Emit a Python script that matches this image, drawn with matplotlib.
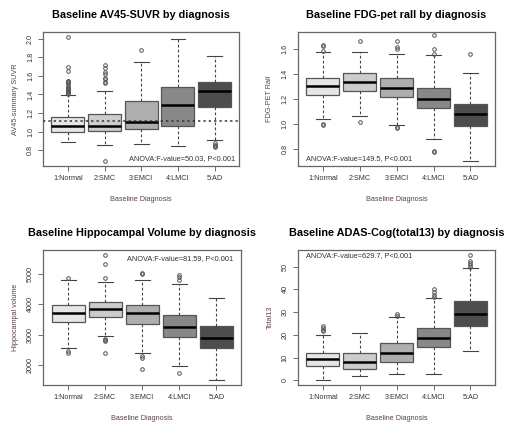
import matplotlib
matplotlib.use("Agg")
import matplotlib.pyplot as plt

plt.rcParams["font.family"] = ["Liberation Sans", "DejaVu Sans"]

groups = ["1:Normal", "2:SMC", "3:EMCI", "4:LMCI", "5:AD"]
box_colors = ["#E6E6E6", "#CCCCCC", "#AEAEAE", "#888888", "#4D4D4D"]

# --- AV45 SUVR: (whislo, q1, med, q3, whishi) per group + outliers
av45_stats = [(0.89, 1.00, 1.06, 1.16, 1.39), (0.855, 1.005, 1.063, 1.185, 1.44),
              (0.872, 1.023, 1.10, 1.326, 1.748), (0.843, 1.06, 1.286, 1.477, 1.995),
              (0.908, 1.27, 1.434, 1.535, 1.816)]
av45_out = [[2.02, 1.70, 1.65, 1.55, 1.54, 1.53, 1.52, 1.50, 1.48, 1.47, 1.46, 1.45, 1.44, 1.43, 1.42, 1.41],
            [1.72, 1.69, 1.64, 1.62, 1.58, 1.57, 1.53, 1.52, 0.68],
            [1.874], [], [0.88, 0.86, 0.85, 0.83]]
av45_cut = 1.11

# --- FDG-PET
fdg_stats = [(1.034, 1.226, 1.304, 1.366, 1.573), (1.061, 1.26, 1.336, 1.403, 1.578),
             (0.986, 1.212, 1.288, 1.363, 1.56), (0.878, 1.123, 1.20, 1.29, 1.552),
             (0.70, 0.98, 1.075, 1.158, 1.41)]
fdg_out = [[1.635, 1.62, 1.585, 1.0, 0.99], [1.667, 1.015],
           [1.667, 1.613, 1.60, 0.97, 0.965], [1.708, 1.60, 1.562, 0.784, 0.77], [1.56]]

# --- Hippocampal volume
hip_stats = [(2574, 3412, 3721, 3985, 4812), (2971, 3588, 3831, 4063, 4735),
             (2408, 3346, 3721, 3963, 4790), (1956, 2915, 3246, 3643, 4669),
             (1504, 2552, 2882, 3290, 4195)]
hip_out = [[4880, 2452, 2386], [5618, 5320, 4857, 2871, 2830, 2794, 2386],
           [5044, 4990, 2298, 2243, 1879], [4978, 4890, 4802, 1746], []]

# --- ADAS-Cog total13
adas_stats = [(0, 6.2, 9.3, 11.9, 20.1), (2.0, 5.1, 8.2, 11.9, 21.0),
              (2.9, 8.1, 11.9, 16.2, 27.9), (2.9, 14.7, 18.5, 22.9, 36.0),
              (12.8, 24.1, 29.1, 34.7, 49.4)]
adas_out = [[24.0, 23.0, 22.3, 21.7], [], [29.0, 28.3], [40.0, 38.7, 37.7, 36.7],
            [55.0, 52.6, 51.7, 50.7, 50.0]]

panels = [
    ("Baseline AV45-SUVR by diagnosis", "AV45-summary SUVR", av45_stats, av45_out,
     "ANOVA:F-value=50.03, P<0.001", "br", (0.63, 2.074), [0.8, 1.0, 1.2, 1.4, 1.6, 1.8, 2.0], "{:.1f}"),
    ("Baseline FDG-pet rall by diagnosis", "FDG-PET Rall", fdg_stats, fdg_out,
     "ANOVA:F-value=149.5, P<0.001", "bl", (0.66, 1.737), [0.8, 1.0, 1.2, 1.4, 1.6], "{:.1f}"),
    ("Baseline Hippocampal Volume by diagnosis", "Hippocampal volume", hip_stats, hip_out,
     "ANOVA:F-value=81.59, P<0.001", "tr", (1338, 5794), [2000, 3000, 4000, 5000], "{:.0f}"),
    ("Baseline ADAS-Cog(total13) by diagnosis", "Total13", adas_stats, adas_out,
     "ANOVA:F-value=629.7, P<0.001", "tl", (-2.06, 57.35), [0, 10, 20, 30, 40, 50], "{:.0f}"),
]

rects = [[0.0843, 0.6066, 0.384, 0.318], [0.584, 0.6066, 0.386, 0.318],
         [0.0843, 0.0877, 0.388, 0.32], [0.584, 0.0877, 0.386, 0.32]]

LAB = "#5a4545"
fig = plt.figure(figsize=(5.1, 4.22), dpi=100)
for i, (title, ylab, stats, outs, anova, pos, ylim, yt, fmt) in enumerate(panels):
    ax = fig.add_axes(rects[i])
    bxs = [dict(whislo=s[0], q1=s[1], med=s[2], q3=s[3], whishi=s[4], fliers=o)
           for s, o in zip(stats, outs)]
    b = ax.bxp(bxs, positions=range(1, 6), widths=0.9, capwidths=0.4, patch_artist=True,
               boxprops=dict(edgecolor="#555555", lw=0.9),
               medianprops=dict(color="black", lw=1.8),
               whiskerprops=dict(color="#444444", lw=0.8, ls=(0, (2.5, 2))),
               capprops=dict(color="#444444", lw=0.8),
               flierprops=dict(marker="o", ms=2.6, mfc="none", mec="#555555", mew=0.7))
    for p, c in zip(b["boxes"], box_colors):
        p.set_facecolor(c)
    if i == 0:
        ax.axhline(av45_cut, color="#333333", lw=1.1, ls=(0, (1.5, 2)), zorder=5)
    ax.set_xlim(0.32, 5.66)
    ax.set_ylim(*ylim)
    ax.set_xticks(range(1, 6))
    ax.set_xticklabels(groups, fontsize=5.2, color="#333333")
    ax.set_yticks(yt)
    ax.set_yticklabels([fmt.format(v) for v in yt], fontsize=5.2, color="#333333",
                       rotation=90, va="center")
    ax.tick_params(length=3.5, width=0.6, color="#555555", pad=3)
    for sp in ax.spines.values():
        sp.set_color("#666666"); sp.set_linewidth(0.9)
    ax.set_xlabel("Baseline Diagnosis", fontsize=5.2, color=LAB, labelpad=10)
    ax.set_ylabel(ylab, fontsize=5.2, color=LAB, labelpad=6)
    ax.set_title(title, fontsize=7.8, fontweight="bold", pad=10)
    xy = {"br": (0.98, 0.03, "right", "bottom"), "bl": (0.04, 0.03, "left", "bottom"),
          "tr": (0.96, 0.96, "right", "top"), "tl": (0.04, 0.985, "left", "top")}[pos]
    ax.text(xy[0], xy[1], anova, transform=ax.transAxes, ha=xy[2], va=xy[3],
            fontsize=5.3, color="#333333")

fig.savefig("out.png", dpi=100)
